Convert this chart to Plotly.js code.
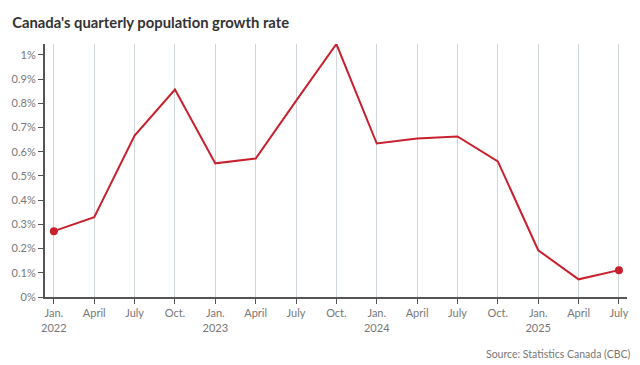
<!DOCTYPE html>
<html>
<head>
<meta charset="utf-8">
<script src="https://cdn.plot.ly/plotly-3.0.1.min.js"></script>
<style>html,body{margin:0;padding:0;background:#fff;}#chart{width:640px;height:365px;}</style>
</head>
<body>
<div id="chart"></div>
<script>
const quarters = ['2022-01','2022-04','2022-07','2022-10','2023-01','2023-04','2023-07','2023-10','2024-01','2024-04','2024-07','2024-10','2025-01','2025-04','2025-07'];
const tickLabels = ['Jan.<br>2022','April','July','Oct.','Jan.<br>2023','April','July','Oct.','Jan.<br>2024','April','July','Oct.','Jan.<br>2025','April','July'];
const growthRate = [0.272, 0.33, 0.667, 0.857, 0.552, 0.572, 0.81, 1.045, 0.634, 0.655, 0.663, 0.56, 0.193, 0.073, 0.111];
const yTickVals = [0,0.1,0.2,0.3,0.4,0.5,0.6,0.7,0.8,0.9,1];
const yTickText = ['0%','0.1%','0.2%','0.3%','0.4%','0.5%','0.6%','0.7%','0.8%','0.9%','1%'];

const red = '#c8202d';
const markerSizes = growthRate.map((v,i)=> (i===0 || i===growthRate.length-1) ? 8 : 0);

const trace = {
  x: quarters, y: growthRate, type: 'scatter', mode: 'lines+markers',
  line: {color: red, width: 2},
  marker: {color: red, size: markerSizes, opacity: 1, line: {width: 0}},
  cliponaxis: false, hoverinfo: 'skip'
};

const layout = {
  width: 640, height: 365,
  margin: {l: 45, r: 13, t: 44, b: 68},
  paper_bgcolor: '#fff', plot_bgcolor: '#fff',
  font: {family: 'Lato, "Open Sans", sans-serif', color: '#777', size: 11},
  title: {text: "Canada's quarterly population growth rate", x: 0.019, xanchor: 'left', xref: 'container',
          y: 0.937, yanchor: 'middle', yref: 'container',
          font: {family: 'Lato, sans-serif', size: 14.8, color: '#333', weight: 'bold'}},
  xaxis: {type: 'category', tickmode: 'array', tickvals: quarters, ticktext: tickLabels,
          range: [-0.22, 14.2], showgrid: true, gridcolor: '#cfd6dc', gridwidth: 1,
          showline: true, linecolor: '#555', linewidth: 2, ticks: 'outside', ticklen: 5, tickcolor: '#555',
          tickfont: {size: 11, color: '#777'}, zeroline: false, fixedrange: true},
  yaxis: {range: [0, 1.045], tickmode: 'array', tickvals: yTickVals, ticktext: yTickText,
          showgrid: false, showline: true, linecolor: '#555', linewidth: 2, ticks: 'outside', ticklen: 5, tickcolor: '#555',
          tickfont: {size: 11, color: '#777'}, zeroline: false, fixedrange: true},
  annotations: [{text: 'Source: Statistics Canada (CBC)', xref: 'paper', yref: 'paper', x: 1, xshift: 5, y: -0.225,
                 xanchor: 'right', yanchor: 'middle', showarrow: false, font: {size: 10.5, color: '#777'}}],
  showlegend: false
};

Plotly.newPlot('chart', [trace], layout, {displayModeBar: false, staticPlot: true});
</script>
</body>
</html>
